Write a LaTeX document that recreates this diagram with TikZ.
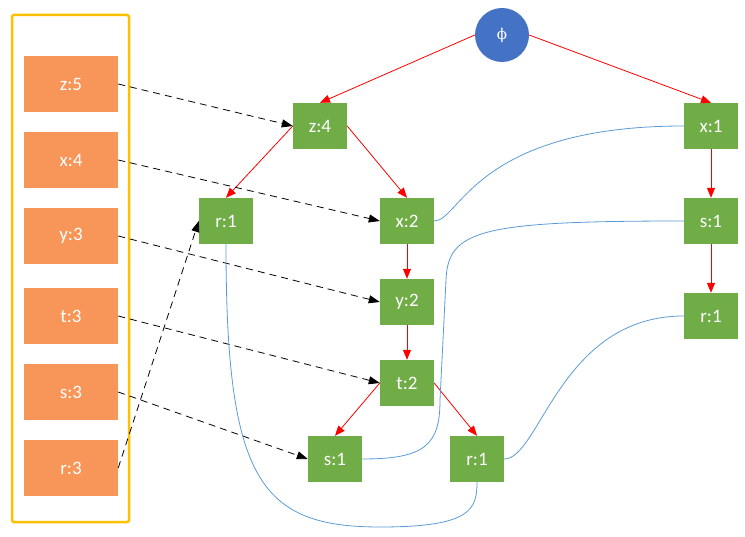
\documentclass[tikz,border=0pt]{standalone}
\usepackage{fontspec}
\setmainfont{Carlito}
\newfontfamily\phifont{DejaVu Serif}
\usetikzlibrary{arrows.meta}
\definecolor{hdrorange}{RGB}{248,150,90}
\definecolor{treegreen}{RGB}{112,173,71}
\definecolor{rootblue}{RGB}{68,114,196}
\definecolor{frameyellow}{RGB}{255,192,0}
\definecolor{linkblue}{RGB}{91,155,213}
\tikzset{
  hdr/.style={fill=hdrorange,minimum width=94pt,minimum height=56pt,inner sep=0pt,text=white,font=\fontsize{19}{19}\selectfont},
  tnode/.style={fill=treegreen,minimum width=54pt,minimum height=46pt,inner sep=0pt,text=white,font=\fontsize{19}{19}\selectfont},
  rootnode/.style={circle,fill=rootblue,minimum size=54pt,inner sep=0pt,text=white,font=\phifont\fontsize{15}{15}\selectfont},
  treeedge/.style={draw=red,line width=0.8pt,-{Triangle[length=10pt,width=8pt]}},
  ptr/.style={draw=black,line width=0.8pt,dash pattern=on 7pt off 5pt,-{Triangle[length=11pt,width=8pt]}},
  nlink/.style={draw=linkblue,line width=0.8pt},
}
\begin{document}
\begin{tikzpicture}[x=1pt,y=-1pt]
\useasboundingbox (0,0) rectangle (745,537);
\draw[frameyellow,line width=2.5pt,rounded corners=2pt] (12,15) rectangle (129,522);
% header table
\node[hdr] (hz) at (71,84) {z:5};
\node[hdr] (hx) at (71,160) {x:4};
\node[hdr] (hy) at (71,236) {y:3};
\node[hdr] (ht) at (71,316) {t:3};
\node[hdr] (hs) at (71,392) {s:3};
\node[hdr] (hr) at (71,468) {r:3};
% tree
\node[rootnode] (root) at (502,35) {ϕ};
\node[tnode] (z4) at (320,126) {z:4};
\node[tnode] (r1a) at (226,221) {r:1};
\node[tnode] (x2) at (407,221) {x:2};
\node[tnode] (y2) at (407,302) {y:2};
\node[tnode] (t2) at (407,383) {t:2};
\node[tnode] (s1a) at (335,459) {s:1};
\node[tnode] (r1b) at (477,459) {r:1};
\node[tnode] (x1) at (711,126) {x:1};
\node[tnode] (s1b) at (711,221) {s:1};
\node[tnode] (r1c) at (711,316) {r:1};
% tree edges
\draw[treeedge] (root.west) -- (z4.north);
\draw[treeedge] (root.east) -- (x1.north);
\draw[treeedge] (z4.west) -- (r1a.north);
\draw[treeedge] (z4.east) -- (x2.north);
\draw[treeedge] (x2) -- (y2);
\draw[treeedge] (y2) -- (t2);
\draw[treeedge] (t2.west) -- (s1a.north);
\draw[treeedge] (t2.east) -- (r1b.north);
\draw[treeedge] (x1) -- (s1b);
\draw[treeedge] (s1b) -- (r1c);
% header pointers
\draw[ptr] (hz.east) -- (z4.west);
\draw[ptr] (hx.east) -- (x2.west);
\draw[ptr] (hy.east) -- (y2.west);
\draw[ptr] (ht.east) -- (t2.west);
\draw[ptr] (hs.east) -- (s1a.west);
\draw[ptr] (hr.east) -- (r1a.west);
% node links
\draw[nlink] (x2.east) .. controls (460,221) and (475,126) .. (x1.west);
\draw[nlink] (s1a.east) .. controls (425,459) and (440,445) .. (440,400) -- (446,280) .. controls (448,230) and (480,221) .. (s1b.west);
\draw[nlink] (r1b.east) .. controls (540,459) and (560,316) .. (r1c.west);
\draw[nlink] (r1a.south) .. controls (226,480) and (260,527) .. (380,527) .. controls (470,527) and (477,510) .. (r1b.south);
\end{tikzpicture}
\end{document}
